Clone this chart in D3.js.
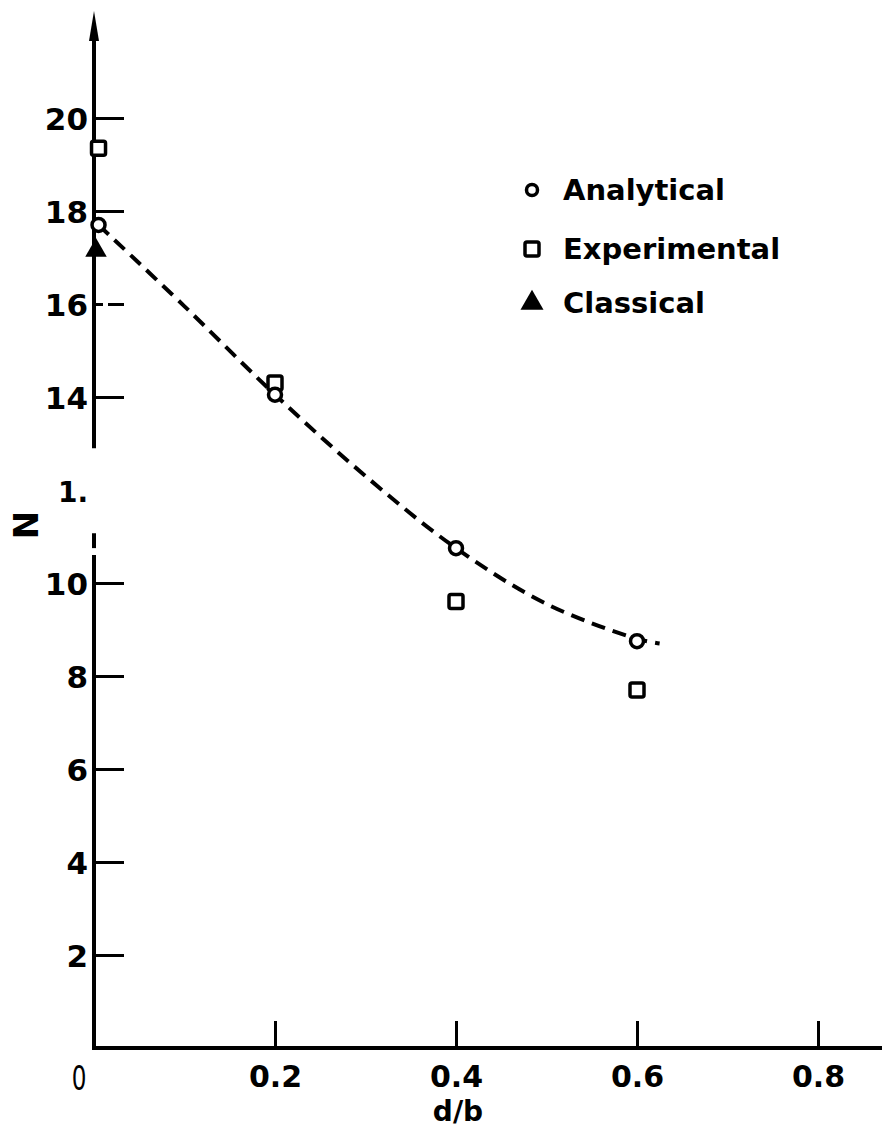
<!DOCTYPE html>
<html><head><meta charset="utf-8">
<script src="https://cdn.jsdelivr.net/npm/d3@7"></script>
<style>
html,body{margin:0;padding:0;background:#fff;}
text{font-family:"DejaVu Sans",sans-serif;fill:#000;}
</style></head>
<body>
<svg id="chart" width="882" height="1132"></svg>
<script>
// ---- data ----
const xTicks = [0.2, 0.4, 0.6, 0.8];
const xTickLabels = ["0.2", "0.4", "0.6", "0.8"];
const yTicks = [2, 4, 6, 8, 10, 14, 16, 18, 20];
const yTickLabels = ["2", "4", "6", "8", "10", "14", "16", "18", "20"];
const analyticalX = [0.005, 0.2, 0.4, 0.6];
const analyticalN = [17.7, 14.05, 10.75, 8.75];
const experimentalX = [0.005, 0.2, 0.4, 0.6];
const experimentalN = [19.35, 14.3, 9.6, 7.7];
const classicalX = [0.0];
const classicalN = [17.15];
const curveX = [0.005, 0.1, 0.2, 0.3, 0.4, 0.5, 0.6, 0.625];
const curveN = [17.7, 15.95, 14.05, 12.3, 10.75, 9.55, 8.8, 8.7];
const legendLabels = ["Analytical", "Experimental", "Classical"];

// ---- scales ----
const svg = d3.select("#chart");
const x = d3.scaleLinear().domain([0, 0.8]).range([94, 818]);
const y = d3.scaleLinear().domain([0, 20]).range([1048, 118]);

// ---- y axis (broken line with arrow) ----
const yAxisSegments = [[0, 10.6], [10.75, 11.07], [12.9, 21.9]];
yAxisSegments.forEach(s => {
  svg.append("line").attr("x1", x(0)).attr("x2", x(0))
    .attr("y1", y(s[0])).attr("y2", y(s[1]))
    .attr("stroke", "#000").attr("stroke-width", 4);
});
const ax = x(0), at = y(22.3);
svg.append("path")
  .attr("d", `M${ax},${at} L${ax - 5},${at + 30} L${ax + 5},${at + 30} Z`)
  .attr("fill", "#000");

const yAxis = d3.axisLeft(y).tickValues(yTicks)
  .tickSize(-30).tickPadding(38)
  .tickFormat((d, i) => yTickLabels[i]);
const gy = svg.append("g").attr("transform", `translate(${x(0)},0)`).call(yAxis);
gy.select(".domain").remove();
gy.selectAll(".tick line").attr("stroke", "#000").attr("stroke-width", 3)
  .attr("stroke-dasharray", d => d === 16 ? "9,5,20" : null);
gy.selectAll(".tick text").attr("x", -6).style("font-size", "31px")
  .style("font-family", "DejaVu Sans").style("font-weight", "bold").attr("dy", "0.36em");
svg.append("text").attr("x", 58).attr("y", y(12) + 12).text("1.")
  .style("font-size", "28px").style("font-weight", "bold");

// ---- x axis ----
svg.append("line").attr("x1", x(0) - 2).attr("x2", 882)
  .attr("y1", y(0)).attr("y2", y(0)).attr("stroke", "#000").attr("stroke-width", 4);
const xAxis = d3.axisBottom(x).tickValues(xTicks)
  .tickSize(-27).tickPadding(20)
  .tickFormat((d, i) => xTickLabels[i]);
const gx = svg.append("g").attr("transform", `translate(0,${y(0)})`).call(xAxis);
gx.select(".domain").remove();
gx.selectAll(".tick line").attr("stroke", "#000").attr("stroke-width", 3);
gx.selectAll(".tick text").style("font-size", "30px").style("font-family", "DejaVu Sans")
  .style("font-weight", "bold").attr("y", 18).attr("dy", "0.71em");
svg.append("text").attr("x", 0).attr("y", 0).attr("text-anchor", "middle")
  .attr("transform", `translate(79,${y(0) + 42}) scale(0.7,1)`)
  .style("font-size", "33px").text("0");

// axis titles
svg.append("text").attr("x", 458).attr("y", 1121).attr("text-anchor", "middle")
  .style("font-size", "28px").style("font-weight", "bold").text("d/b");
svg.append("text").attr("transform", `translate(38,525) rotate(-90)`)
  .attr("text-anchor", "middle").style("font-size", "34px").style("font-weight", "bold").text("N");

// ---- dashed curve ----
const curvePts = curveX.map((v, i) => [v, curveN[i]]);
svg.append("path").datum(curvePts)
  .attr("d", d3.line().x(d => x(d[0])).y(d => y(d[1])).curve(d3.curveCatmullRom))
  .attr("fill", "none").attr("stroke", "#000").attr("stroke-width", 4)
  .attr("stroke-dasharray", "14,8");

// ---- markers ----
const exp = experimentalX.map((v, i) => [v, experimentalN[i]]);
svg.selectAll("rect.sq").data(exp).enter().append("rect").attr("class", "sq")
  .attr("x", d => x(d[0]) - 7).attr("y", d => y(d[1]) - 7)
  .attr("width", 14).attr("height", 14).attr("rx", 2)
  .attr("fill", "#fff").attr("stroke", "#000").attr("stroke-width", 3.5);

const ana = analyticalX.map((v, i) => [v, analyticalN[i]]);
svg.selectAll("circle.ci").data(ana).enter().append("circle").attr("class", "ci")
  .attr("cx", d => x(d[0])).attr("cy", d => y(d[1])).attr("r", 6.5)
  .attr("fill", "#fff").attr("stroke", "#000").attr("stroke-width", 3.5);

const cla = classicalX.map((v, i) => [v, classicalN[i]]);
const tri = d3.symbol().type(d3.symbolTriangle).size(200);
svg.selectAll("path.tr").data(cla).enter().append("path").attr("class", "tr")
  .attr("transform", d => `translate(${x(d[0]) + 2},${y(d[1])})`)
  .attr("d", tri).attr("fill", "#000");

// ---- legend ----
const lg = svg.append("g");
const ly = [190, 249, 303];
lg.append("circle").attr("cx", 532).attr("cy", ly[0]).attr("r", 5.5)
  .attr("fill", "#fff").attr("stroke", "#000").attr("stroke-width", 3.5);
lg.append("rect").attr("x", 525).attr("y", ly[1] - 7).attr("width", 14).attr("height", 14).attr("rx", 2)
  .attr("fill", "#fff").attr("stroke", "#000").attr("stroke-width", 3.5);
lg.append("path").attr("transform", `translate(532,${ly[2]})`)
  .attr("d", d3.symbol().type(d3.symbolTriangle).size(230)).attr("fill", "#000");
legendLabels.forEach((t, i) => {
  lg.append("text").attr("x", 563).attr("y", ly[i]).attr("dy", "0.36em")
    .style("font-size", "29px").style("font-weight", "bold").text(t);
});
</script>
</body></html>
